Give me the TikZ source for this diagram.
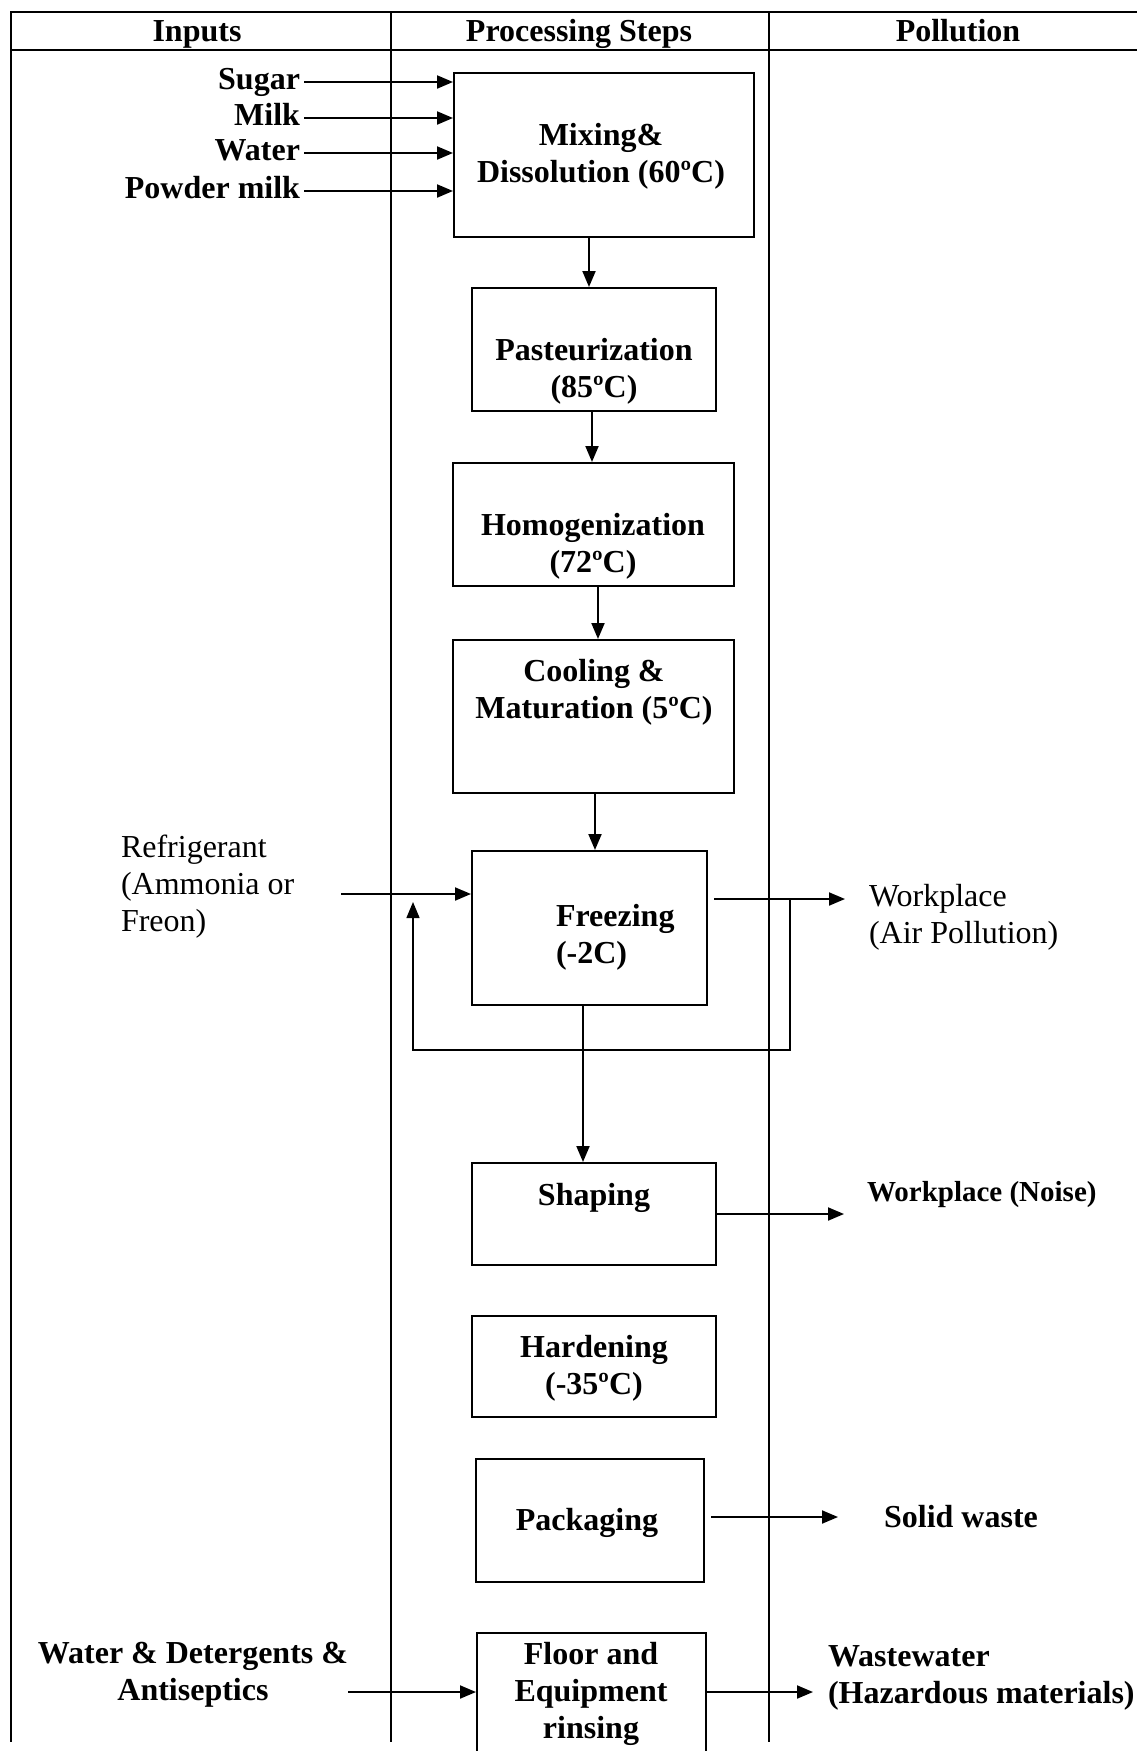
\documentclass[tikz,border=0pt]{standalone}
\usepackage{fontspec}
\setmainfont{Liberation Serif}
\usetikzlibrary{arrows.meta}

\begin{document}
\begin{tikzpicture}
[ x=1pt, y=-1pt, line width=2pt
, every node/.style={inner sep=3pt}
, point/.style={coordinate}
, stage/.style={rectangle, draw, inner sep=0pt}
, bold/.style={font=\fontsize{32}{37}\selectfont\bfseries}
, plain/.style={font=\fontsize{32}{37}\selectfont}
, oneline/.style={text height=22pt, text depth=7pt}
, link/.style={-{Triangle[length=16pt,width=13pt]}}
, back/.style={link, line width=1.5pt}
]
\useasboundingbox (0,0) rectangle (1137,1751);
% Table frame:
\draw (1137,12) -- (11,12) -- (11,1742);
\draw (11,50) -- (1137,50);
\draw (391,12) -- (391,1742);
\draw (769,12) -- (769,1742);
\node (hinputs) [bold, oneline] at (197,34) {Inputs};
\node (hsteps) [bold, oneline] at (579,34) {Processing Steps};
\node (hpollution) [bold, oneline] at (958,34) {Pollution};
% Processing steps:
\node (mix) [stage, minimum width=300pt, minimum height=164pt] at (604,155) {};
\node (mixtext) [bold, align=center] at (601,156) {Mixing\&\\Dissolution (60ºC)};
\node (past) [stage, minimum width=244pt, minimum height=123pt] at (594,349.5) {};
\node (pasttext) [bold, align=center] at (594,371) {Pasteurization\\(85ºC)};
\node (homog) [stage, minimum width=281pt, minimum height=123pt] at (593.5,524.5) {};
\node (homogtext) [bold, align=center] at (593,546) {Homogenization\\(72ºC)};
\node (cool) [stage, minimum width=281pt, minimum height=153pt] at (593.5,716.5) {};
\node (cooltext) [bold, align=center] at (594,692) {Cooling \&\\Maturation (5ºC)};
\node (freeze) [stage, minimum width=235pt, minimum height=154pt] at (589.5,928) {};
\node (freezetext) [bold, align=left, anchor=west] at (552,937) {Freezing\\(-2C)};
\node (shape) [stage, minimum width=244pt, minimum height=102pt] at (594,1214) {};
\node (shapetext) [bold, oneline] at (594,1198) {Shaping};
\node (hard) [stage, minimum width=244pt, minimum height=101pt] at (594,1366.5) {};
\node (hardtext) [bold, align=center] at (594,1368) {Hardening\\(-35ºC)};
\node (pack) [stage, minimum width=228pt, minimum height=123pt] at (590,1520.5) {};
\node (packtext) [bold, oneline] at (587,1523) {Packaging};
\node (rinse) [stage, minimum width=229pt, minimum height=138pt] at (591.5,1702) {};
\node (rinsetext) [bold, align=center] at (591,1694) {Floor and\\Equipment\\rinsing};
\draw [link] ([xshift=-15pt]mix.south) -- ([xshift=-15pt]mix.south |- past.north);
\draw [link] ([xshift=-2pt]past.south) -- ([xshift=-2pt]past.south |- homog.north);
\draw [link] ([xshift=4.5pt]homog.south) -- ([xshift=4.5pt]homog.south |- cool.north);
\draw [link] ([xshift=1.5pt]cool.south) -- ([xshift=1.5pt]cool.south |- freeze.north);
\draw [link] ([xshift=-6.5pt]freeze.south) -- ([xshift=-6.5pt]freeze.south |- shape.north);
% Inputs:
\node (sugar) [bold, oneline, anchor=east] at (304,82) {Sugar};
\node (milk) [bold, oneline, anchor=east] at (304,118) {Milk};
\node (water) [bold, oneline, anchor=east] at (304,153) {Water};
\node (powder) [bold, oneline, anchor=east] at (304,191) {Powder milk};
\foreach \src in {sugar, milk, water, powder}
  \draw [link] (\src.east) -- (\src.east -| mix.west);
\node (refrig) [plain, align=left, anchor=west] at (117,887) {Refrigerant\\(Ammonia or\\Freon)};
\node (detergent) [bold, align=center] at (193,1675) {Water \& Detergents \&\\Antiseptics};
\node (refin) [point] at (341,894) {};
\node (rinsein) [point] at (348,1692) {};
\draw [link] (refin) -- (refin -| freeze.west);
\draw [link] (rinsein) -- (rinsein -| rinse.west);
% Pollution:
\node (air) [plain, align=left, anchor=west] at (865,917) {Workplace\\(Air Pollution)};
\node (noise) [oneline, anchor=west, font=\fontsize{29}{34}\selectfont\bfseries] at (863,1194) {Workplace (Noise)};
\node (solid) [bold, oneline] at (961,1520) {Solid waste};
\node (waste) [bold, align=left, anchor=west] at (824,1678) {Wastewater\\(Hazardous materials)};
\node (airfrom) [point] at (714,899) {};
\node (airtip) [point] at (845,899) {};
\node (loopr) [point] at (790,899) {};
\node (loopl) [point] at (413,902) {};
\node (noisetip) [point] at (844,1214) {};
\node (solidtip) [point] at (838,1517) {};
\node (wastetip) [point] at (813,1692) {};
\draw [link] (airfrom) -- (airtip);
\draw [back] (loopr) -- ++(0,151) -| (loopl);
\draw [link] (shape.east) -- (noisetip);
\draw [link] ([xshift=6pt]pack.east |- solidtip) -- (solidtip);
\draw [link] (rinse.east |- rinsein) -- (wastetip);
\end{tikzpicture}
\end{document}
